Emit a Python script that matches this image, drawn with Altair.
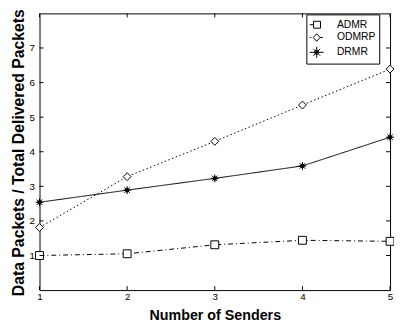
import altair as alt
import pandas as pd

# ---- data ----
senders = [1, 2, 3, 4, 5]
admr = [1.0, 1.05, 1.31, 1.44, 1.41]
odmrp = [1.81, 3.28, 4.3, 5.35, 6.39]
drmr = [2.54, 2.89, 3.23, 3.59, 4.42]
series_names = ["ADMR", "ODMRP", "DRMR"]
x_ticks = [1, 2, 3, 4, 5]
y_ticks = [1, 2, 3, 4, 5, 6, 7]

rows = []
for name, vals in zip(series_names, [admr, odmrp, drmr]):
    for s, v in zip(senders, vals):
        rows.append({"senders": s, "value": v, "series": name})
df = pd.DataFrame(rows)
ytick_df = pd.DataFrame({"value": y_ticks})
xtick_df = pd.DataFrame({"senders": x_ticks})

W, H = 356, 281
FONT = "Liberation Sans"

x_scale = alt.Scale(domain=[1, 5], nice=False, zero=False)
y_scale = alt.Scale(domain=[0, 8], nice=False, zero=False)

x_axis = alt.Axis(values=x_ticks, format="d", ticks=False, domain=False, grid=False,
                  labelFontSize=10, labelPadding=2, labelFlush=False,
                  title="Number of Senders", titleFontSize=14.5, titleFontWeight="bold",
                  titleY=30, titleBaseline="alphabetic")
y_axis = alt.Axis(values=y_ticks, format="d", ticks=False, domain=False, grid=False,
                  labelFontSize=10, labelPadding=5, labelFlush=False,
                  title="Data Packets / Total Delivered Packets", titleFontSize=16,
                  titleFontWeight="bold", titleX=-16, titleY=141, titleAngle=270,
                  titleBaseline="alphabetic")

star = ("M-1,0H1M0,-1V1M-0.7,-0.7L0.7,0.7M-0.7,0.7L0.7,-0.7"
        "M-0.45,0A0.45,0.45,0,1,0,0.45,0A0.45,0.45,0,1,0,-0.45,0Z")

X = alt.X("senders:Q", scale=x_scale, axis=x_axis)
Y = alt.Y("value:Q", scale=y_scale, axis=y_axis)

lines = alt.Chart(df).mark_line(color="black", strokeWidth=1).encode(
    x=X, y=Y,
    strokeDash=alt.StrokeDash("series:N",
                              scale=alt.Scale(domain=series_names,
                                              range=[[5, 3, 1, 3], [1.5, 2.5], [1, 0]]),
                              legend=None),
)

points = alt.Chart(df).mark_point(filled=True, size=64, stroke="black",
                                  strokeWidth=1, opacity=1).encode(
    x=X, y=Y,
    shape=alt.Shape("series:N",
                    scale=alt.Scale(domain=series_names, range=["square", "diamond", star]),
                    legend=None),
    fill=alt.Fill("series:N",
                  scale=alt.Scale(domain=series_names, range=["white", "white", "black"]),
                  legend=None),
)

# legend glyphs: line piece + marker, drawn as one stroked path
leg_admr = "M-1,0H-0.45M-0.45,-0.5H0.55V0.5H-0.45Z"
leg_odmrp = "M-1,0H-0.8M-0.5,0L0,-0.55L0.5,0L0,0.55ZM0.5,0H0.9"
leg_drmr = ("M-1,0H1M0,-0.8V0.8M-0.5,-0.5L0.5,0.5M-0.5,0.5L0.5,-0.5"
            "M-0.3,0A0.3,0.3,0,1,0,0.3,0A0.3,0.3,0,1,0,-0.3,0Z"
            "M-0.15,0A0.15,0.15,0,1,0,0.15,0A0.15,0.15,0,1,0,-0.15,0Z")

leg = dict(orient="none", legendX=271, legendY=1, title=None,
           strokeColor="black", fillColor="white", padding=3,
           symbolSize=196, symbolStrokeWidth=1, symbolStrokeColor="black",
           symbolOpacity=1,
           labelFont=FONT, labelFontSize=10.5, labelColor="black",
           labelOffset=13, rowPadding=0)

legend_layer = alt.Chart(df).transform_filter("false").mark_point(
    filled=False, size=196, color="black", strokeWidth=1, opacity=1).encode(
    x=X, y=Y,
    shape=alt.Shape("series:N",
                    scale=alt.Scale(domain=series_names,
                                    range=[leg_admr, leg_odmrp, leg_drmr]),
                    legend=alt.Legend(**leg)),
)

left_ticks = alt.Chart(ytick_df).mark_rule(color="black", strokeWidth=1).encode(
    y=Y, x=alt.value(0), x2=alt.value(4))
right_ticks = alt.Chart(ytick_df).mark_rule(color="black", strokeWidth=1).encode(
    y=Y, x=alt.value(W - 4), x2=alt.value(W))
bottom_ticks = alt.Chart(xtick_df).mark_rule(color="black", strokeWidth=1).encode(
    x=X, y=alt.value(H), y2=alt.value(H - 4))
top_ticks = alt.Chart(xtick_df).mark_rule(color="black", strokeWidth=1).encode(
    x=X, y=alt.value(0), y2=alt.value(4))

chart = alt.layer(
    lines, points, left_ticks, right_ticks, bottom_ticks, top_ticks, legend_layer
).resolve_scale(
    shape="independent"
).properties(
    width=W, height=H,
    autosize=alt.AutoSizeParams(type="none"),
    padding={"left": 32, "top": 3, "right": 4, "bottom": 34},
    background="white",
).configure_view(
    stroke="black", strokeWidth=1
).configure_axis(
    labelFont=FONT, titleFont=FONT, labelColor="black", titleColor="black"
)

chart.save("out.html", embed_options={"renderer": "svg", "actions": False})
